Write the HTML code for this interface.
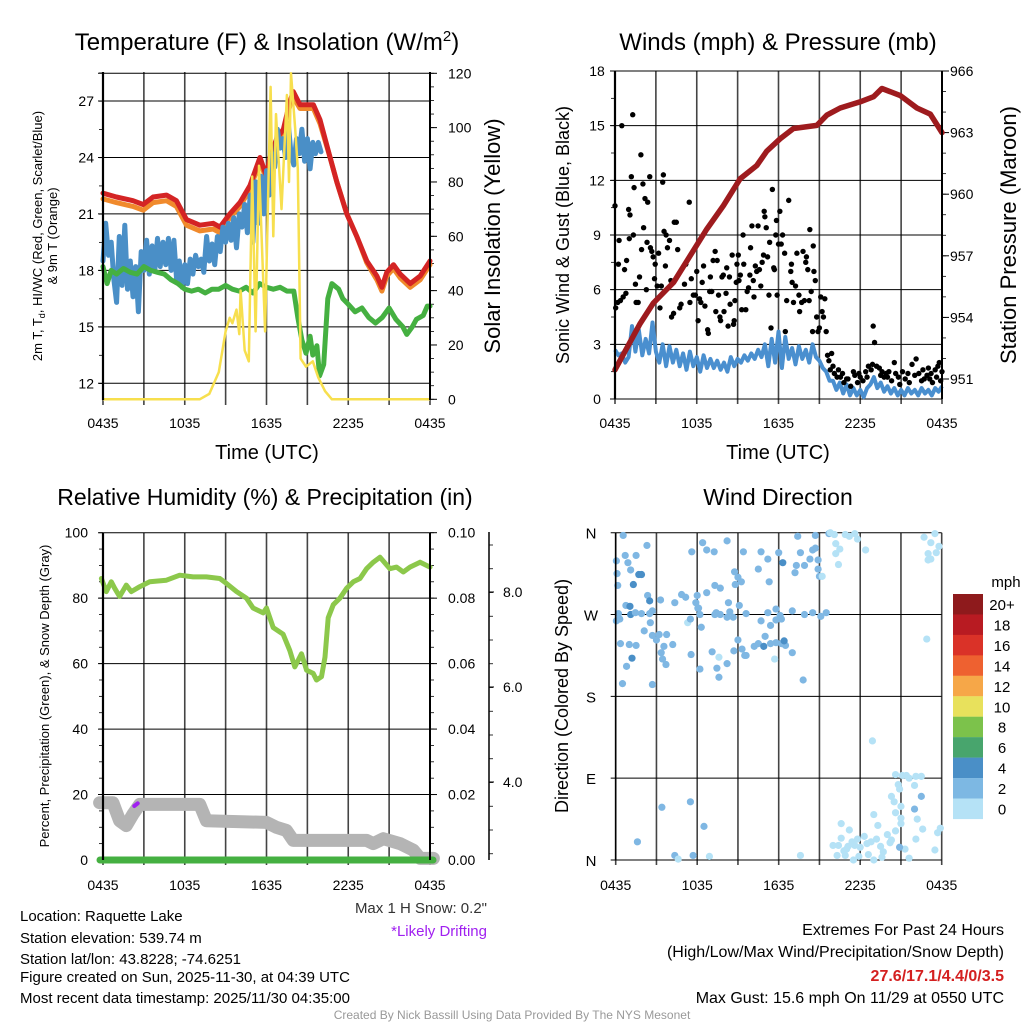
<!DOCTYPE html>
<html><head><meta charset="utf-8">
<style>
html,body{margin:0;padding:0;background:#fff;}
svg{display:block;font-family:"Liberation Sans",sans-serif;}
</style></head>
<body>
<svg id="c" width="1024" height="1024" viewBox="0 0 1024 1024">
<text x="267" y="50" font-size="24" text-anchor="middle">Temperature (F) &amp; Insolation (W/m<tspan dy="-9" font-size="15">2</tspan><tspan dy="9">)</tspan></text>
<text x="778" y="50" font-size="24" text-anchor="middle">Winds (mph) &amp; Pressure (mb)</text>
<text x="265" y="505" font-size="23" text-anchor="middle">Relative Humidity (%) &amp; Precipitation (in)</text>
<text x="778" y="505" font-size="23" text-anchor="middle">Wind Direction</text>
<text x="267" y="459" font-size="20" text-anchor="middle">Time (UTC)</text>
<text x="778" y="459" font-size="20" text-anchor="middle">Time (UTC)</text>
<text transform="translate(42,236) rotate(-90)" font-size="13" text-anchor="middle">2m T, T<tspan dy="3" font-size="9">d</tspan><tspan dy="-3">, HI/WC (Red, Green, Scarlet/Blue)</tspan></text>
<text transform="translate(57,236) rotate(-90)" font-size="13" text-anchor="middle">&amp; 9m T (Orange)</text>
<text transform="translate(500,236) rotate(-90)" font-size="22" text-anchor="middle">Solar Insolation (Yellow)</text>
<text transform="translate(569,235) rotate(-90)" font-size="18" text-anchor="middle">Sonic Wind &amp; Gust (Blue, Black)</text>
<text transform="translate(1016,235) rotate(-90)" font-size="22" text-anchor="middle">Station Pressure (Maroon)</text>
<text transform="translate(49,696) rotate(-90)" font-size="13" text-anchor="middle">Percent, Precipitation (Green), &amp; Snow Depth (Gray)</text>
<text transform="translate(568,696) rotate(-90)" font-size="18" text-anchor="middle">Direction (Colored By Speed)</text>
<g font-size="15">
<text x="20" y="921">Location: Raquette Lake</text>
<text x="20" y="943">Station elevation: 539.74 m</text>
<text x="20" y="964">Station lat/lon: 43.8228; -74.6251</text>
<text x="20" y="982">Figure created on Sun, 2025-11-30, at 04:39 UTC</text>
<text x="20" y="1003">Most recent data timestamp: 2025/11/30 04:35:00</text>
</g>
<text x="487" y="913" font-size="15" fill="#333" text-anchor="end">Max 1 H Snow: 0.2"</text>
<text x="487" y="936" font-size="15" fill="#a020f0" text-anchor="end">*Likely Drifting</text>
<g font-size="16" text-anchor="end">
<text x="1004" y="935">Extremes For Past 24 Hours</text>
<text x="1004" y="957">(High/Low/Max Wind/Precipitation/Snow Depth)</text>
<text x="1004" y="981" fill="#d42020" font-weight="bold">27.6/17.1/4.4/0/3.5</text>
<text x="1004" y="1003">Max Gust: 15.6 mph On 11/29 at 0550 UTC</text>
</g>
<text x="512" y="1019" font-size="12" fill="#999" text-anchor="middle">Created By Nick Bassill Using Data Provided By The NYS Mesonet</text>
</svg>
<script>
// ---------- data (hours since 0435 UTC) ----------
var xTickLabels=["0435","1035","1635","2235","0435"];
var tempTicks=[12,15,18,21,24,27];
var solarTicks=[0,20,40,60,80,100,120];
var windTicks=[0,3,6,9,12,15,18];
var presTicks=[951,954,957,960,963,966];
var rhTicks=[0,20,40,60,80,100];
var precipTicks=["0.00","0.02","0.04","0.06","0.08","0.10"];
var snowTicks=[4,6,8];
var dirLabels=["N","E","S","W","N"];
var dirTicks=[0,90,180,270,360];

var redT=[0,0.98,2.2,2.94,3.68,4.66,5.39,6.13,7.11,8.09,8.58,9.31,10.05,10.78,11.27,11.52,12.0,12.25,12.75,13.24,13.73,13.97,14.46,15.44,15.93,16.67,17.16,17.89,18.63,19.36,20.1,20.47,20.83,21.32,21.81,22.55,23.28,24];
var redV=[22.1,21.9,21.7,21.5,21.9,22.0,21.7,20.7,20.4,20.5,20.3,21.0,21.6,22.5,23.5,24.0,23.0,24.0,25.0,25.5,27.0,27.5,26.8,26.8,26.0,24.0,22.7,21.0,19.8,18.5,17.7,17.1,17.9,18.3,17.8,17.3,17.7,18.5];
var orangeV=[21.8,21.6,21.4,21.2,21.6,21.7,21.4,20.4,20.1,20.2,20.0,20.8,21.4,22.3,23.3,23.8,22.8,23.8,24.8,25.4,26.8,27.2,26.6,26.6,25.8,24.0,22.7,21.0,19.8,18.4,17.5,16.9,17.7,18.1,17.6,17.1,17.5,18.3];
var blueT=[0,0.2,0.4,0.6,0.8,1,1.2,1.4,1.6,1.8,2,2.2,2.4,2.6,2.8,3,3.2,3.4,3.6,3.8,4,4.2,4.4,4.6,4.8,5,5.2,5.4,5.6,5.8,6,6.2,6.4,6.6,6.8,7,7.2,7.4,7.6,7.8,8,8.2,8.4,8.6,8.8,9,9.2,9.4,9.6,9.8,10,10.2,10.4,10.6,10.8,11,11.2,11.4,11.6,11.8,12,12.2,12.4,12.6,12.8,13,13.2,13.4,13.6,13.8,14,14.2,14.4,14.6,14.8,15,15.2,15.4,15.6,15.8,16];
var blueV=[18.5,20.5,18.8,19.5,17.5,16.3,19.8,17.2,20.4,17.0,18.5,16.6,18.2,15.8,19.0,18.0,19.6,17.8,19.3,18.0,19.7,18.2,19.5,18.3,19.7,18.0,19.6,17.5,18.5,17.1,18.3,17.3,18.6,17.8,18.8,18.2,18.6,17.9,19.8,18.5,19.4,18.3,19.8,19.0,20.3,19.5,20.5,19.6,20.8,19.2,21.0,20.3,21.5,20.0,22.0,19.5,22.7,20.5,23.0,21.0,23.3,22.0,24.2,23.5,25.5,24.5,25.0,24.0,25.8,24.2,23.6,25.0,24.2,25.5,23.8,25.0,23.4,24.8,24.2,24.8,24.3];
var greenT=[0,0.3,0.6,1,1.5,2,2.5,3,3.5,4,4.5,5,5.5,6,6.5,7,7.5,8,8.5,9,9.5,10,10.5,11,11.5,12,12.5,13,13.5,14,14.3,14.6,14.9,15.2,15.4,15.7,15.9,16.2,16.5,16.8,17.3,17.6,18,18.5,19,19.5,20,20.5,21,21.5,22,22.3,22.7,23,23.5,23.8,24];
var greenV=[18.2,17.3,18.0,17.8,18.1,17.9,17.8,18.2,18.0,17.9,17.8,17.5,17.3,17.0,16.9,17.0,16.8,17.0,17.0,17.2,17.0,16.9,17.1,16.8,17.3,17.1,17.0,17.1,16.9,16.9,15.5,14.3,13.6,14.5,13.5,14.0,12.4,13.0,16.5,17.3,17.0,16.5,16.2,15.8,16.0,15.5,15.2,15.5,16.0,15.4,15.0,14.6,15.0,15.4,15.6,16.1,16.1];
var solarT=[0,7.1,7.8,8.5,9.0,9.3,9.5,9.8,10.0,10.1,10.4,10.7,10.95,11.2,11.45,11.9,12.3,12.5,12.7,13.1,13.5,13.65,13.8,14.1,14.3,14.5,14.9,15.4,15.8,16.3,16.8,24];
var solarV=[0,0,2,10,25,30,28,33,24,40,18,14,82,25,86,25,115,60,105,70,112,80,120,100,85,15,12,14,8,3,0,0];

var presT=[0,1.84,2.82,4.29,5.51,6.74,7.96,9.18,10.41,11.14,12.12,13.1,14.81,15.55,16.53,18.0,18.98,19.59,20.94,22.16,23.14,24];
var presV=[951.45,953.7,954.7,955.7,957.0,958.3,959.45,960.75,961.4,962.1,962.7,963.2,963.35,963.85,964.2,964.5,964.75,965.15,964.8,964.2,963.9,963.0];
var windT=[0,0.25,0.5,0.75,1,1.25,1.5,1.75,2,2.25,2.5,2.75,3,3.25,3.5,3.75,4,4.25,4.5,4.75,5,5.25,5.5,5.75,6,6.25,6.5,6.75,7,7.25,7.5,7.75,8,8.25,8.5,8.75,9,9.25,9.5,9.75,10,10.25,10.5,10.75,11,11.25,11.5,11.75,12,12.25,12.5,12.75,13,13.25,13.5,13.75,14,14.25,14.5,14.75,15,15.25,15.5,15.75,16,16.25,16.5,16.75,17,17.25,17.5,17.75,18,18.25,18.5,18.75,19,19.25,19.5,19.75,20,20.25,20.5,20.75,21,21.25,21.5,21.75,22,22.25,22.5,22.75,23,23.25,23.5,23.75,24];
var windV=[2.7,2.4,2.5,2.0,2.3,4.0,2.6,3.8,2.4,3.3,2.5,4.2,2.6,2.0,3.0,1.8,2.9,2.0,2.7,1.8,2.5,1.6,2.6,1.8,2.3,1.5,2.4,1.7,2.2,1.7,2.1,1.6,2.0,1.5,2.3,1.8,2.2,2.0,2.4,2.1,2.5,2.2,2.7,2.3,3.0,1.8,3.3,2.0,3.7,1.7,3.4,2.2,2.8,1.9,2.9,2.2,2.7,2.0,3.0,2.3,2.1,1.7,1.5,1.0,1.0,0.5,0.9,0.3,0.8,0.2,0.6,0.2,0.5,0.1,0.6,0.8,1.2,0.6,0.9,0.4,0.7,0.3,0.6,0.2,0.5,0.2,0.6,0.3,0.5,0.2,0.6,0.3,0.5,0.2,0.6,0.4,0.7];
var gustT=[0,0.05,0.2,0.3,0.25,0.4,0.5,0.6,0.7,0.8,0.85,1.0,1.05,1.1,1.2,1.3,1.35,1.4,1.5,1.55,1.7,1.8,1.9,1.95,2.05,2.1,2.2,2.3,2.35,2.4,2.55,2.6,2.7,2.8,2.9,2.95,3.1,3.2,3.3,3.4,3.5,3.55,3.6,3.7,3.75,3.85,4.0,4.1,4.15,4.3,4.35,4.5,4.6,4.75,4.85,5.1,5.2,5.45,5.5,5.6,5.75,5.9,6.0,6.1,6.2,6.3,6.4,6.5,6.6,6.8,6.85,6.95,7.0,7.1,7.2,7.35,7.4,7.5,7.6,7.7,7.75,7.85,7.95,8.0,8.15,8.2,8.3,8.4,8.45,8.6,8.7,8.75,8.8,8.9,8.95,9.05,9.1,9.2,9.3,9.4,9.45,9.6,9.7,9.8,9.9,9.95,10.05,10.15,10.2,10.3,10.4,10.5,10.6,10.7,10.8,10.9,10.95,11.0,11.1,11.2,11.3,11.35,11.45,11.55,11.65,11.7,11.8,11.85,11.9,12.0,12.1,12.2,12.3,12.45,12.5,12.6,12.75,12.9,12.95,13.0,13.1,13.25,13.35,13.5,13.55,13.7,13.8,13.9,14.0,14.05,14.15,14.25,14.3,14.4,14.5,14.55,14.6,14.7,14.8,14.9,15.0,15.1,15.2,15.3,15.4,15.5,15.6,15.7,15.8,15.9,16.0,16.1,16.3,16.4,16.55,16.7,16.8,17.0,17.1,17.3,17.5,17.6,17.8,17.9,18.0,18.2,18.4,18.5,18.6,18.8,18.9,18.95,19.05,19.2,19.4,19.5,19.6,19.75,19.9,20.0,20.1,20.3,20.5,20.6,20.8,20.9,21.1,21.3,21.5,21.6,21.8,22.0,22.1,22.3,22.5,22.6,22.7,22.9,23.0,23.1,23.2,23.3,23.5,23.6,23.7,23.8,23.9,24];
var gustV=[10.6,5.0,5.3,8.7,7.4,5.4,15.0,5.6,7.1,5.8,7.6,10.4,8.8,10.1,12.2,15.6,9.0,11.6,6.3,5.3,5.3,6.7,13.4,8.2,11.8,9.4,11.0,6.0,8.6,10.8,12.2,8.3,8.1,7.8,6.6,7.4,6.2,8.0,5.0,6.2,11.9,12.3,9.2,7.3,9.0,8.3,8.7,6.5,4.5,4.7,9.7,9.7,8.2,5.0,5.2,6.3,7.4,10.8,5.3,6.6,5.7,5.7,7.0,4.3,5.5,5.3,6.4,7.3,5.1,3.8,3.6,5.9,6.7,5.9,7.6,8.1,4.8,7.6,5.7,4.5,4.3,6.7,6.8,4.8,5.8,7.2,4.0,6.7,5.2,7.9,4.1,4.3,5.4,6.4,7.4,7.9,6.5,6.8,4.9,9.0,7.4,4.9,5.9,6.1,6.8,8.3,9.5,6.5,5.6,7.3,7.0,9.5,7.1,6.2,7.5,7.9,10.3,10.0,9.4,7.8,5.7,8.6,3.9,11.5,7.2,7.1,9.0,9.8,5.7,8.5,10.3,8.5,9.0,8.0,3.7,5.4,10.9,7.0,7.4,6.4,5.3,6.2,8.0,5.7,4.8,5.3,8.1,5.4,7.5,7.8,7.1,5.4,9.3,5.9,3.7,8.4,7.0,6.5,4.5,3.7,3.9,5.6,4.8,4.5,5.5,3.7,2.4,2.1,1.6,2.5,1.8,1.4,1.2,1.6,1.2,1.4,0.9,1.1,1.1,0.7,1.5,1.3,0.9,1.4,1.2,1.0,1.5,1.2,1.8,1.6,1.9,4.0,3.1,1.8,1.7,1.3,1.5,1.2,1.4,1.2,1.5,1.0,2.0,1.4,1.2,0.8,1.5,1.1,1.4,0.9,1.9,1.3,2.2,1.4,1.0,1.6,1.1,1.3,1.7,1.1,1.4,0.9,1.6,1.2,1.8,2.0,1.0,1.5];

var rhT=[-0.12,0.24,0.61,0.86,1.22,1.71,2.08,2.69,3.43,4.65,5.63,6.61,7.59,8.57,9.06,9.8,10.53,11.02,11.76,12.0,12.49,13.22,13.71,14.08,14.57,14.94,15.43,15.67,16.04,16.29,16.53,16.9,17.39,17.88,18.37,18.86,19.35,19.84,20.33,21.06,21.55,22.04,22.53,23.27,24.0,24.0];
var rhV=[86,82,85,83,80.5,84,82,83.5,85,85.5,87,86.5,86.5,86,84.5,82,80,77,75.5,77,71,69,64,59,63,58,57,55,56,62,74,78,80,83,85,86,89,91,92.5,89,89.5,88,89.5,91,89.5,89.5];
var snowT=[-0.25,0.73,1.22,1.71,2.2,2.69,7.1,7.59,12.0,12.73,13.47,13.96,19.35,19.84,20.57,21.8,22.78,23.27,24.25];
var snowV=[17.5,17.5,12,10.5,14,17,17,12,11.5,10,9,6,6,5,6.5,5,3,0.5,0.5];
var driftT=[2.3,2.55];
var driftV=[16.5,17.3];

var dirT=[0.55,0.7,0.05,0.9,1.5,2.3,1.1,0.1,0.15,1.7,1.9,1.3,0.2,0.3,0.75,1.05,1.1,1.45,1.9,2.5,2.55,2.35,2.5,3.3,2.7,0.35,0.05,1.0,1.5,1.2,2.1,2.7,3.0,3.2,3.55,3.75,4.2,3.45,3.7,3.35,0.8,0.5,2.7,4.35,4.85,5.3,5.15,5.5,6.0,6.05,6.3,6.2,7.3,7.7,8.2,8.65,9.1,9.6,8.3,8.4,10.7,11.2,12.1,11.8,12.2,13.0,13.9,14.5,15.1,15.5,7.6,7.4,11.4,11.8,9.0,9.6,8.7,10.2,10.5,10.9,11.4,12.2,13.0,11.7,11.8,12.5,9.3,11.0,13.8,7.45,7.6,6.2,7.1,5.55,12.4,8.2,9.5,6.1,5.9,6.7,7.3,7.7,8.8,9.25,8.75,9.0,10.5,11.3,12.3,13.2,13.3,13.6,13.9,14.3,14.9,15.0,16.4,15.2,14.5,14.7,14.9,5.6,6.4,6.7,7.25,8.2,9.4,10.7,12.0,11.2,13.4,14.7,15.7,16.5,16.2,17.2,17.8,18.4,16.9,17.6,16.1,15.8,16.2,22.7,23.5,23.2,23.8,23.0,23.2,23.6,23.0,22.9,18.9,20.6,20.8,21.1,21.4,22.1,22.5,22.0,21.6,20.9,20.3,20.5,20.6,21.0,21.0,19.0,16.6,17.2,16.6,16.4,16.8,17.1,17.4,17.6,17.8,18.0,18.3,18.5,18.8,19.2,19.5,19.7,20.0,20.3,20.6,21.0,22.2,22.1,22.6,23.5,23.7,23.9,21.3,21.6,16.0,16.3,18.6,19.6,17.9,19.3,17.0,16.9,17.5,19.0,20.2,20.9,22.0,22.5,3.4,5.5,1.6,4.35,5.7,6.5,13.6,4.6,6.9];
var dirV=[357,335,329,327,335,346,319,315,302,314,314,303,271,265,280,279,270,272,271,271,261,291,285,286,274,238,263,237,236,222,252,247,242,248,235,248,237,221,215,228,213,194,193,283,292,261,289,265,291,277,256,270,270,270,267,267,280,271,283,273,263,272,269,276,265,274,270,272,268,272,223,272,258,264,242,225,230,235,238,235,238,238,228,221,239,236,232,246,198,211,201,210,229,226,241,216,225,277,283,294,302,299,303,306,317,311,320,306,327,316,324,338,324,331,320,312,325,312,341,343,330,339,349,341,339,351,339,339,338,331,356,357,359,342,348,356,353,341,358,359,358,360,337,355,359,349,345,337,331,338,330,243,131,94,83,93,93,92,92,82,90,78,70,64,52,46,59,50,40,33,24,16,10,15,20,16,23,14,26,18,20,23,15,9,28,22,32,40,45,23,34,11,30,35,12,2,16,5,6,3,4,38,12,5,0,0,19,14,56,70,58,64,20,5,5,37,5,1,4];
var dirSpd=[3,3,3,3,3,3,3,3,3,5,5,5,3,3,3,5,5,3,3,3,3,3,5,3,3,3,3,3,3,5,3,3,3,3,3,3,3,3,3,3,3,3,3,3,3,1,3,3,3,3,3,3,3,3,3,3,3,3,3,3,3,3,3,3,3,3,3,3,3,3,1,3,3,3,3,3,3,3,3,5,3,3,3,1,3,3,3,3,3,3,3,3,3,3,5,3,3,3,3,3,3,3,3,3,3,3,3,3,5,3,3,3,3,3,3,3,1,1,3,3,3,3,3,3,3,3,3,3,3,3,3,3,3,1,1,1,1,1,1,1,1,1,1,1,1,1,1,1,1,1,1,1,1,1,1,1,1,1,1,1,1,1,1,1,1,1,1,1,1,1,1,1,1,1,1,1,1,1,1,1,1,1,1,1,1,1,1,1,1,1,1,1,1,1,1,1,1,1,1,1,1,1,1,1,1,1,1,3,3,3,3,3,3,3,3,3];
var cbLabels=["20+","18","16","14","12","10","8","6","4","2","0"];
var cbColors=["#8e1a1c","#b81b22","#da3228","#ee6130","#f6a748","#e8e15c","#7cc24b","#48a56d","#4a8fc7","#7db8e3","#b5e2f6"];

// ---------- drawing ----------
var NS="http://www.w3.org/2000/svg";
var svg=document.getElementById('c');
function mk(tag,attrs,parent){var e=document.createElementNS(NS,tag);for(var k in attrs)e.setAttribute(k,attrs[k]);(parent||svg).appendChild(e);return e;}
function txt(x,y,s,size,anchor,parent){var t=mk('text',{x:x,y:y,'font-size':size,'text-anchor':anchor||'middle'},parent);t.textContent=s;return t;}
function linScale(d0,d1,r0,r1){return function(v){return r0+(v-d0)*(r1-r0)/(d1-d0);};}
function pathD(ts,vs,xs,ys){var d='';for(var i=0;i<ts.length;i++){d+=(i?'L':'M')+xs(ts[i]).toFixed(1)+','+ys(vs[i]).toFixed(1);}return d;}
function grid(g,xL,xR,yT,yB,xs,hY){
  for(var h=0;h<=24;h+=3){var l=mk('line',{x1:xs(h),x2:xs(h),y1:yT,y2:yB+5,stroke:'#444','stroke-width':1.6},g);
  
  }
  hY.forEach(function(y){var l=mk('line',{x1:xL-5,x2:xR,y1:y,y2:y,stroke:'#000','stroke-width':1},g);
  
  });
}
function xLabels(g,xs,y){for(var i=0;i<xTickLabels.length;i++){var t=txt(xs(i*6),y,xTickLabels[i],14,'middle',g);
  
  }}
function spines(g,xL,xR,yT,yB){mk('line',{x1:xL,x2:xL,y1:yT,y2:yB,stroke:'#000','stroke-width':2.2},g);mk('line',{x1:xR,x2:xR,y1:yT,y2:yB,stroke:'#000','stroke-width':2},g);}
function minorTicks(g,x,y0,y1,step,dir){for(var y=y0;y<=y1+0.1;y+=step){mk('line',{x1:x,x2:x+dir*4,y1:y,y2:y,stroke:'#000','stroke-width':0.8},g);}}

// Panel 1
(function(){
var g=mk('g',{});


var xL=103,xR=430,yT=72,yB=400;
var xs=linScale(0,24,xL,xR), ys=linScale(12,27,383.3,101), yS=linScale(0,120,399.3,73.3);
grid(g,xL,xR,yT,yB,xs,tempTicks.map(ys).concat([73.3]));
minorTicks(g,xL,ys(27)-28,yB,ys(12)-ys(13.5),-1);
minorTicks(g,xR,yS(120),yS(0),yS(0)-yS(5),1);
tempTicks.forEach(function(v){var t=txt(xL-9,ys(v)+5,String(v),14,'end',g);

});
solarTicks.forEach(function(v){mk('line',{x1:xR,x2:xR+7,y1:yS(v),y2:yS(v),stroke:'#000'},g);var t=txt(xR+18,yS(v)+5,String(v),14,'start',g);

});
xLabels(g,xs,428);
var sw=5;
var p;
p=mk('path',{d:pathD(redT,orangeV,xs,ys),fill:'none',stroke:'#f08a2c','stroke-width':sw,'stroke-linejoin':'round','stroke-linecap':'round'},g);


p=mk('path',{d:pathD(redT,redV,xs,ys),fill:'none',stroke:'#d42424','stroke-width':sw,'stroke-linejoin':'round','stroke-linecap':'round'},g);


p=mk('path',{d:pathD(blueT,blueV,xs,ys),fill:'none',stroke:'#4a8fc7','stroke-width':sw,'stroke-linejoin':'round','stroke-linecap':'round'},g);


p=mk('path',{d:pathD(greenT,greenV,xs,ys),fill:'none',stroke:'#45b041','stroke-width':sw,'stroke-linejoin':'round','stroke-linecap':'round'},g);


p=mk('path',{d:pathD(solarT,solarV,xs,yS),fill:'none',stroke:'#f7df4e','stroke-width':2.5,'stroke-linejoin':'round'},g);


spines(g,xL,xR,yT,yB);
})();

// Panel 2
(function(){
var g=mk('g',{});


var xL=615,xR=942,yT=71,yB=399;
var xs=linScale(0,24,xL,xR), ys=linScale(0,18,399,71), yP=linScale(951,966,379,71);
grid(g,xL,xR,yT,yB,xs,windTicks.map(ys));
minorTicks(g,xL,yT,yB,ys(0)-ys(1.5),-1);
minorTicks(g,xR,yP(966),yB,yP(951)-yP(952),1);
windTicks.forEach(function(v){var t=txt(xL-18,ys(v)+5,String(v),14,'middle',g);

});
presTicks.forEach(function(v){mk('line',{x1:xR,x2:xR+7,y1:yP(v),y2:yP(v),stroke:'#000'},g);var t=txt(xR+8,yP(v)+5,String(v),14,'start',g);

});
xLabels(g,xs,428);
var p=mk('path',{d:pathD(windT,windV,xs,ys),fill:'none',stroke:'#4a8fcf','stroke-width':4,'stroke-linejoin':'round'},g);


for(var i=0;i<gustT.length;i++){var c=mk('circle',{cx:xs(gustT[i]),cy:ys(gustV[i]),r:2.7,fill:'#000'},g);

}
p=mk('path',{d:pathD(presT,presV,xs,yP),fill:'none',stroke:'#9e1b1e','stroke-width':5.5,'stroke-linejoin':'round','stroke-linecap':'round'},g);


spines(g,xL,xR,yT,yB);
})();

// Panel 3
(function(){
var g=mk('g',{});


var xL=103,xR=430,yT=532.7,yB=860;
var xs=linScale(0,24,xL,xR), ys=linScale(0,100,860,532.7);
grid(g,xL,xR,yT,yB,xs,rhTicks.map(ys));
minorTicks(g,xL,yT,yB,ys(0)-ys(5),-1);
minorTicks(g,xR,yT,yB,ys(0)-ys(5),1);
rhTicks.forEach(function(v,i){var t=txt(xL-15,ys(v)+5,String(v),14,'end',g);


mk('line',{x1:xR,x2:xR+7,y1:ys(v),y2:ys(v),stroke:'#000'},g);
var t2=txt(xR+18,ys(v)+5,precipTicks[i],14,'start',g);

});
var yD=linScale(4,8,782,592);
mk('line',{x1:489,x2:489,y1:532,y2:860,stroke:'#000','stroke-width':1.5},g);
minorTicks(g,489,545,858,yD(4)-yD(4.5),1);
snowTicks.forEach(function(v){mk('line',{x1:489,x2:494,y1:yD(v),y2:yD(v),stroke:'#000'},g);var t=txt(503,yD(v)+5,v.toFixed(1),14,'start',g);

});
xLabels(g,xs,890);
var p=mk('path',{d:pathD(snowT,snowV,xs,ys),fill:'none',stroke:'#b4b4b4','stroke-width':13,'stroke-linejoin':'round','stroke-linecap':'round'},g);


p=mk('path',{d:pathD(driftT,driftV,xs,ys),fill:'none',stroke:'#a020f0','stroke-width':4,'stroke-linecap':'round'},g);


p=mk('path',{d:pathD(rhT,rhV,xs,ys),fill:'none',stroke:'#8cc84b','stroke-width':5,'stroke-linejoin':'round','stroke-linecap':'round'},g);


p=mk('line',{x1:xL-3,x2:xR+3,y1:ys(0),y2:ys(0),stroke:'#45b041','stroke-width':7,'stroke-linecap':'round'},g);


spines(g,xL,xR,yT,yB);
})();

// Panel 4
(function(){
var g=mk('g',{});


var xL=615.7,xR=941.7,yT=532.7,yB=860;
var xs=linScale(0,24,xL,xR), ys=linScale(0,360,860,532.7);
grid(g,xL,xR,yT,yB,xs,dirTicks.map(ys));
dirTicks.forEach(function(v,i){var t=txt(591,ys(v)+6,dirLabels[i],15,'middle',g);

});
xLabels(g,xs,890);
function col(s){return s>=4?cbColors[8]:(s>=2?cbColors[9]:cbColors[10]);}
for(var i=0;i<dirT.length;i++){var c=mk('circle',{cx:xs(dirT[i]),cy:ys(dirV[i]),r:3.6,fill:dirSpd[i]===3?'#7fb7e3':col(dirSpd[i])},g);

}
mk('line',{x1:xL,x2:xL,y1:yT,y2:yB,stroke:'#000','stroke-width':1.6},g);
var cb=mk('g',{});


txt(1006,587,'mph',15,'middle',cb);
for(var k=0;k<cbLabels.length;k++){var y=594+k*20.45;
var r=mk('rect',{x:953,y:y,width:30,height:20.6,fill:cbColors[k]},cb);


var t=txt(1002,y+16,cbLabels[k],15,'middle',cb);

}
})();
</script>
</body></html>
